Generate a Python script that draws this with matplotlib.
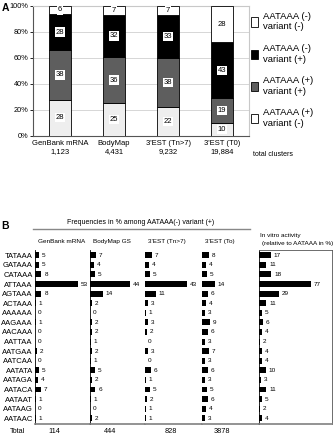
import matplotlib
matplotlib.use("Agg")
import matplotlib.pyplot as plt
from matplotlib.patches import Patch
from matplotlib.lines import Line2D

plt.rcParams['font.family'] = ['Liberation Sans', 'DejaVu Sans']

# ---------------- Panel A data ----------------
groups = ["GenBank mRNA", "BodyMap", "3'EST (Tn>7)", "3'EST (T0)"]
clusters = ["1,123", "4,431", "9,232", "19,884"]
pos_neg = [28, 25, 22, 10]     # AATAAA (+) variant (-)
pos_pos = [38, 36, 38, 19]     # AATAAA (+) variant (+)
neg_pos = [28, 32, 33, 43]     # AATAAA (-) variant (+)
neg_neg = [6, 7, 7, 28]        # AATAAA (-) variant (-)
yticks_a = [0, 20, 40, 60, 80, 100]

# ---------------- Panel B data ----------------
signals = ["TATAAA", "GATAAA", "CATAAA", "ATTAAA", "AGTAAA", "ACTAAA",
           "AAAAAA", "AAGAAA", "AACAAA", "AATTAA", "AATGAA", "AATCAA",
           "AATATA", "AATAGA", "AATACA", "AATAAT", "AATAAG", "AATAAC"]
genbank = [5, 5, 8, 53, 8, 1, 0, 1, 0, 0, 2, 0, 5, 4, 7, 1, 0, 1]
bodymap = [7, 4, 5, 44, 14, 2, 0, 2, 2, 1, 2, 1, 5, 2, 6, 1, 0, 2]
est_tn7 = [7, 4, 5, 43, 11, 3, 1, 3, 2, 0, 3, 0, 6, 1, 5, 2, 1, 1]
est_t0 = [8, 4, 5, 14, 6, 4, 3, 9, 6, 3, 7, 3, 6, 3, 5, 6, 4, 3]
invitro = [17, 11, 18, 77, 29, 11, 5, 6, 4, 2, 4, 4, 10, 3, 11, 5, 2, 4]
col_headers = ["GenBank mRNA", "BodyMap GS", "3'EST (Tn>7)", "3'EST (To)"]
totals = ["114", "444", "828", "3878"]

W, H = 334, 440
fig = plt.figure(figsize=(W / 100, H / 100), dpi=100)


def rect(x0, y0, x1, y1):
    return [x0 / W, 1 - y1 / H, (x1 - x0) / W, (y1 - y0) / H]


# ================= Panel A =================
axA = fig.add_axes(rect(33, 6, 249, 136))
xs = [i + 0.5 for i in range(len(groups))]
light = "#eeeeee"
dark = "#5e5e5e"
series = [(pos_neg, light), (pos_pos, dark), (neg_pos, "black"), (neg_neg, "white")]
bottoms = [0] * len(groups)
for vals, col in series:
    axA.bar(xs, vals, width=0.4, bottom=bottoms, color=col, edgecolor="black",
            linewidth=0.6, zorder=3)
    for x, b, v in zip(xs, bottoms, vals):
        axA.text(x, b + v / 2, str(v), ha="center", va="center", fontsize=5.5,
                 zorder=4, bbox=dict(boxstyle="square,pad=0.15", fc="white", ec="none"))
    bottoms = [b + v for b, v in zip(bottoms, vals)]

axA.set_xlim(0, 4)
axA.set_ylim(0, 100)
axA.set_yticks(yticks_a)
axA.set_yticklabels([f"{t}%" for t in yticks_a], fontsize=5.3)
axA.set_xticks(xs)
axA.set_xticklabels([f"{g}\n{c}" for g, c in zip(groups, clusters)], fontsize=5.5,
                    linespacing=1.15)
axA.tick_params(axis="x", length=0, pad=3)
axA.tick_params(axis="y", length=2, pad=1.2, width=0.6)
axA.grid(axis="y", color="#d0d0d0", linewidth=0.6, zorder=0)
for s in ["top", "right"]:
    axA.spines[s].set_color("#c8c8c8")
    axA.spines[s].set_linewidth(0.8)
for s in ["left", "bottom"]:
    axA.spines[s].set_color("#555555")
    axA.spines[s].set_linewidth(0.8)

fig.text(253 / W, 1 - 154 / H, "total clusters", fontsize=5, va="center", ha="left")
fig.text(1.5 / W, 1 - 8 / H, "A", fontsize=7.5, fontweight="bold", va="center", ha="left")

handles = [Patch(fc="white", ec="black", lw=0.6),
           Patch(fc="black", ec="black", lw=0.6),
           Patch(fc=dark, ec="black", lw=0.6),
           Patch(fc="white", ec="black", lw=0.6)]
labels = ["AATAAA (-)\nvariant (-)", "AATAAA (-)\nvariant (+)",
          "AATAAA (+)\nvariant (+)", "AATAAA (+)\nvariant (-)"]
fig.legend(handles, labels, loc="upper left", bbox_to_anchor=(251 / W, 1 - 12 / H),
           frameon=False, fontsize=6.8, handlelength=0.7, handleheight=1.1,
           handletextpad=0.6, labelspacing=1.35, borderaxespad=0, borderpad=0)

# ================= Panel B =================
fig.text(1.5 / W, 1 - 226 / H, "B", fontsize=7.5, fontweight="bold", va="center", ha="left")
fig.text(141 / W, 1 - 222 / H, "Frequencies in % among AATAAA(-) variant (+)",
         fontsize=5, ha="center", va="center")
fig.add_artist(Line2D([33 / W, 250 / W], [1 - 229 / H, 1 - 229 / H],
                      color="#888888", lw=1.0, transform=fig.transFigure))

columns = [genbank, bodymap, est_tn7, est_t0, invitro]
col_x = [(35, 90), (90, 145), (145, 202), (202, 259), (259, 332)]
px_per_unit = [0.81, 0.91, 0.97, 0.93, 0.68]
total_frac = [0.36, 0.36, 0.46, 0.35]
y_top, y_bot = 250, 424
rows = list(range(len(signals)))

for ci, (vals, (x0, x1), sc) in enumerate(zip(columns, col_x, px_per_unit)):
    ax = fig.add_axes(rect(x0, y_top, x1, y_bot))
    ax.barh(rows, vals, height=0.62, color="black", left=0)
    ax.set_xlim(0, (x1 - x0) / sc)
    ax.set_ylim(17.6, -0.55)
    for r, v in zip(rows, vals):
        ax.annotate(str(v), (v, r), xytext=(2 if v > 0 else 2.2, 0),
                    textcoords="offset points", fontsize=4.6, va="center", ha="left")
    ax.set_xticks([])
    if ci == 0:
        ax.set_yticks(rows)
        ax.set_yticklabels(signals, fontsize=5.5)
        ax.tick_params(axis="y", length=0, pad=1.5)
    else:
        ax.set_yticks([])
    for s in ["top", "right", "left", "bottom"]:
        ax.spines[s].set_visible(False)
    ax.spines["bottom"].set_visible(True)
    ax.spines["bottom"].set_color("#808080")
    ax.spines["bottom"].set_linewidth(1.2)
    if ci in (0, 1):
        ax.spines["left"].set_visible(True)
        ax.spines["left"].set_linewidth(0.6)
    if ci == 4:
        for s in ["top", "right", "left"]:
            ax.spines[s].set_visible(True)
            ax.spines[s].set_linewidth(0.6)
        ax.spines["top"].set_color("#555555")
        ax.spines["right"].set_color("#555555")
        ax.text(0.02, 1 + 15 / (y_bot - y_top), "In vitro activity", fontsize=4.6,
                transform=ax.transAxes, ha="left", va="center")
        ax.text(0.04, 1 + 7 / (y_bot - y_top), "(relative to AATAAA in %)", fontsize=4.6,
                transform=ax.transAxes, ha="left", va="center")
    else:
        ax.text(0.05, 1 + 9 / (y_bot - y_top), col_headers[ci], fontsize=4.6,
                transform=ax.transAxes, ha="left", va="center")
        ax.text(total_frac[ci], -7 / (y_bot - y_top), totals[ci], fontsize=5.3,
                transform=ax.transAxes, ha="center", va="center")

fig.text(10 / W, 1 - 431 / H, "Total", fontsize=5.3, ha="left", va="center")

fig.savefig("out.png", dpi=100)
